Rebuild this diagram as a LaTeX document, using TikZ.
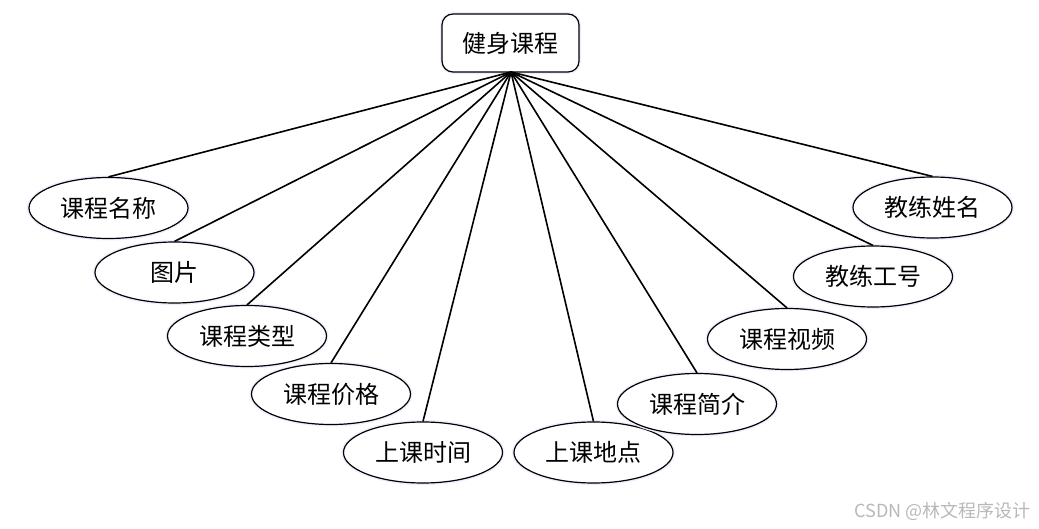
\documentclass[tikz,border=0pt]{standalone}
\usepackage{fontspec}
\newfontfamily\cjk{Noto Sans CJK SC}
\usetikzlibrary{shapes.geometric}

\begin{document}
\begin{tikzpicture}[
    x=1pt, y=-1pt,
    entbox/.style={draw, line width=1.2pt, rounded corners=11pt, fill=white,
                   minimum width=137pt, minimum height=58pt, inner sep=0pt,
                   preaction={draw=blue!7, line width=4pt},
                   font=\cjk\fontsize{24}{28}\selectfont},
    attr/.style={draw, ellipse, line width=1.2pt, fill=white,
                 minimum width=159pt, minimum height=61pt, inner sep=0pt,
                 preaction={draw=blue!7, line width=4pt},
                 font=\cjk\fontsize{24}{28}\selectfont},
    link/.style={line width=1.6pt, black},
]
\useasboundingbox (0,0) rectangle (1039,529);

% Entity
\node[entbox] (course) at (510.5, 43) {健身课程};
\coordinate (hub) at (511, 72);

% Left half of the fan
\node[attr] (name)  at (108.5, 208)   {课程名称};
\node[attr] (pic)   at (174.5, 272.5) {图片};
\node[attr] (type)  at (247, 336)     {课程类型};
\node[attr] (price) at (331, 394)     {课程价格};
\node[attr] (time)  at (423, 452.5)   {上课时间};

% Right half of the fan
\node[attr] (place)     at (593.5, 452.5) {上课地点};
\node[attr] (intro)     at (697, 404)     {课程简介};
\node[attr] (video)     at (787, 339)     {课程视频};
\node[attr] (coachid)   at (873, 276.5)   {教练工号};
\node[attr] (coachname) at (932.5, 207.5) {教练姓名};

% Connecting lines
\foreach \a in {name,pic,type,price,time,place,intro,video,coachid,coachname}
  \draw[link] (hub) -- (\a.north);

% Watermark
\node[font=\cjk\fontsize{18}{20}\selectfont, text=black!28, anchor=east]
  (mark) at (1034, 511) {CSDN @林文程序设计};
\end{tikzpicture}
\end{document}
